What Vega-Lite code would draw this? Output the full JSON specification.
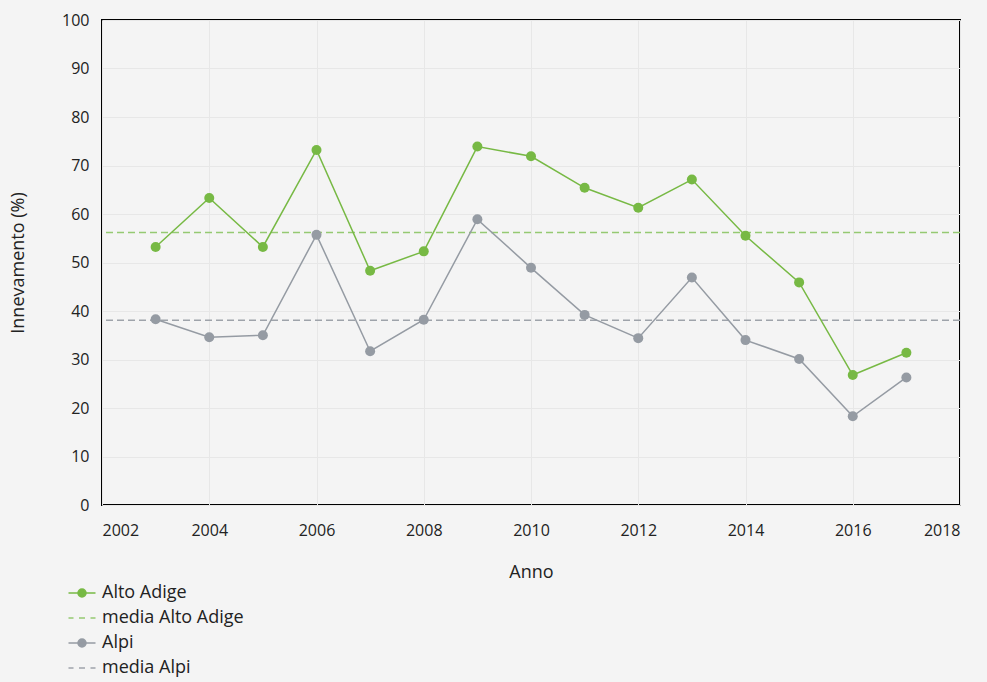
{
  "$schema": "https://vega.github.io/schema/vega-lite/v6.json",
  "width": 858,
  "height": 485,
  "autosize": {"type": "none"},
  "padding": {"left": 102, "top": 20, "right": 27, "bottom": 177},
  "background": "#f4f4f4",
  "config": {
    "font": "Open Sans",
    "view": {"stroke": "#000000", "strokeWidth": 2},
    "axis": {
      "domain": false,
      "ticks": false,
      "grid": true,
      "gridColor": "#e7e7e7",
      "gridWidth": 1,
      "labelFont": "Open Sans",
      "labelFontSize": 16,
      "labelColor": "#222222",
      "titleFont": "Open Sans",
      "titleFontSize": 18,
      "titleFontWeight": "normal",
      "titleColor": "#222222"
    },
    "legend": {
      "labelFont": "Open Sans",
      "labelFontSize": 18,
      "labelColor": "#222222"
    }
  },
  "datasets": {
    "serie": [
      {"anno": 2003, "serie": "Alto Adige", "valore": 53.2},
      {"anno": 2004, "serie": "Alto Adige", "valore": 63.3},
      {"anno": 2005, "serie": "Alto Adige", "valore": 53.2},
      {"anno": 2006, "serie": "Alto Adige", "valore": 73.2},
      {"anno": 2007, "serie": "Alto Adige", "valore": 48.3},
      {"anno": 2008, "serie": "Alto Adige", "valore": 52.3},
      {"anno": 2009, "serie": "Alto Adige", "valore": 73.9},
      {"anno": 2010, "serie": "Alto Adige", "valore": 71.9},
      {"anno": 2011, "serie": "Alto Adige", "valore": 65.4},
      {"anno": 2012, "serie": "Alto Adige", "valore": 61.3},
      {"anno": 2013, "serie": "Alto Adige", "valore": 67.1},
      {"anno": 2014, "serie": "Alto Adige", "valore": 55.5},
      {"anno": 2015, "serie": "Alto Adige", "valore": 45.9},
      {"anno": 2016, "serie": "Alto Adige", "valore": 26.8},
      {"anno": 2017, "serie": "Alto Adige", "valore": 31.4},
      {"anno": 2003, "serie": "Alpi", "valore": 38.3},
      {"anno": 2004, "serie": "Alpi", "valore": 34.6},
      {"anno": 2005, "serie": "Alpi", "valore": 35.0},
      {"anno": 2006, "serie": "Alpi", "valore": 55.7},
      {"anno": 2007, "serie": "Alpi", "valore": 31.7},
      {"anno": 2008, "serie": "Alpi", "valore": 38.2},
      {"anno": 2009, "serie": "Alpi", "valore": 58.9},
      {"anno": 2010, "serie": "Alpi", "valore": 48.9},
      {"anno": 2011, "serie": "Alpi", "valore": 39.2},
      {"anno": 2012, "serie": "Alpi", "valore": 34.4},
      {"anno": 2013, "serie": "Alpi", "valore": 46.9},
      {"anno": 2014, "serie": "Alpi", "valore": 34.0},
      {"anno": 2015, "serie": "Alpi", "valore": 30.1},
      {"anno": 2016, "serie": "Alpi", "valore": 18.3},
      {"anno": 2017, "serie": "Alpi", "valore": 26.3}
    ],
    "medie": [
      {"serie": "media Alto Adige", "valore": 56.2},
      {"serie": "media Alpi", "valore": 38.1}
    ]
  },
  "layer": [
    {
      "data": {"name": "medie"},
      "mark": {"type": "rule", "strokeWidth": 1.6, "strokeDash": [7, 4]},
      "encoding": {
        "y": {"field": "valore", "type": "quantitative"},
        "color": {"field": "serie", "type": "nominal"}
      }
    },
    {
      "data": {"name": "serie"},
      "mark": {"type": "line", "strokeWidth": 1.5},
      "encoding": {
        "x": {
          "field": "anno",
          "type": "quantitative",
          "scale": {"domain": [2002, 2018], "nice": false, "zero": false},
          "axis": {
            "title": "Anno",
            "format": "d",
            "values": [2002, 2004, 2006, 2008, 2010, 2012, 2014, 2016, 2018],
            "labelPadding": 17,
            "labelDx": 5,
            "titlePadding": 25
          }
        },
        "y": {
          "field": "valore",
          "type": "quantitative",
          "scale": {"domain": [0, 100], "nice": false},
          "axis": {
            "title": "Innevamento (%)",
            "values": [0, 10, 20, 30, 40, 50, 60, 70, 80, 90, 100],
            "labelPadding": 13,
            "labelDy": -2,
            "titlePadding": 34
          }
        },
        "color": {
          "field": "serie",
          "type": "nominal",
          "scale": {
            "domain": ["Alto Adige", "media Alto Adige", "Alpi", "media Alpi"],
            "range": ["#77b944", "#95c972", "#959ba3", "#9ea3aa"]
          },
          "legend": {
            "title": null,
            "orient": "none",
            "direction": "vertical",
            "legendX": -29,
            "legendY": 564,
            "padding": 0,
            "symbolSize": 100,
            "symbolStrokeWidth": 1.5,
            "labelOffset": 11,
            "rowPadding": 7,
            "encode": {
              "symbols": {
                "update": {
                  "shape": {"signal": "indexof(datum.value, 'media') === 0 ? 'M-2.7,0H-1.7M-0.6,0H0.6M1.7,0H2.7' : 'M-2.7,0H2.7M-0.8,0A0.8,0.8,0,1,1,0.8,0A0.8,0.8,0,1,1,-0.8,0Z'"},
                  "fill": {"scale": "color", "field": "value"},
                  "stroke": {"scale": "color", "field": "value"},
                  "strokeWidth": {"value": 1.5},
                  "strokeDash": {"value": []},
                  "opacity": {"value": 1},
                  "fillOpacity": {"value": 1}
                }
              }
            }
          }
        }
      }
    },
    {
      "data": {"name": "serie"},
      "mark": {"type": "point", "filled": true, "size": 100, "opacity": 1},
      "encoding": {
        "x": {"field": "anno", "type": "quantitative"},
        "y": {"field": "valore", "type": "quantitative"},
        "color": {"field": "serie", "type": "nominal"}
      }
    }
  ]
}
